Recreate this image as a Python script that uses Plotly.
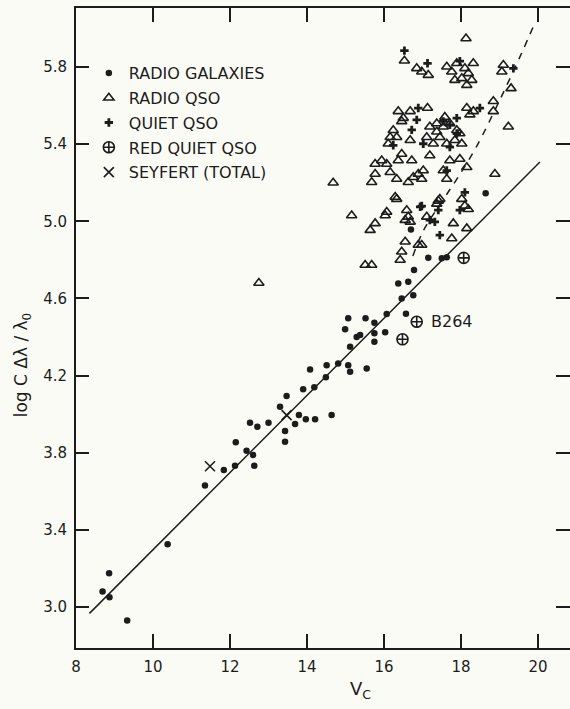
import plotly.graph_objects as go

# ---------------- data ----------------
gal_x = [11.35, 10.38, 8.86, 8.69, 8.87, 9.33,
         11.84, 12.13, 12.63, 12.60, 12.43, 12.15, 12.52, 12.71, 13.00,
         13.43, 13.43, 13.69, 13.79, 13.97, 14.21, 14.64, 13.30, 13.47, 13.90,
         14.19, 14.49, 14.08, 14.51, 14.81, 15.07, 15.12, 15.55, 15.12, 15.29,
         15.38, 14.99, 15.75, 15.75, 16.03, 15.07, 15.52, 15.75, 16.07, 16.57,
         16.46, 16.76, 16.63, 16.37, 16.78, 17.15, 17.50, 17.63, 16.70, 18.64]
gal_y = [3.630, 3.325, 3.175, 3.080, 3.050, 2.930,
         3.710, 3.733, 3.733, 3.788, 3.810, 3.854, 3.956, 3.935, 3.956,
         3.857, 3.912, 3.949, 3.995, 3.973, 3.973, 3.995, 4.038, 4.094, 4.129,
         4.139, 4.191, 4.232, 4.254, 4.263, 4.254, 4.220, 4.237, 4.349, 4.400,
         4.410, 4.440, 4.375, 4.419, 4.424, 4.497, 4.497, 4.474, 4.519, 4.520,
         4.600, 4.617, 4.686, 4.678, 4.747, 4.811, 4.808, 4.813, 4.958, 5.145]

rqso_x = [18.13, 16.53, 16.85, 16.98, 17.15,
          17.63, 17.76, 17.89, 18.10, 18.32, 18.19, 18.02, 17.84, 18.28, 18.15,
          19.10, 19.06, 19.30, 19.23,
          16.37, 16.50, 16.68, 16.46, 17.13,
          18.15, 18.32, 18.23, 18.84, 18.84,
          16.24, 16.16, 16.33, 16.11, 16.68,
          17.19, 17.37, 17.54, 17.71, 17.89, 17.11, 17.45, 17.28, 17.63, 17.84,
          17.97, 18.02, 17.37, 17.58,
          15.77, 15.94, 16.07, 16.46, 16.37, 16.72, 17.19, 17.71, 17.97, 18.15,
          18.88, 15.77, 16.16, 16.89, 17.02,
          15.68, 16.33, 16.63, 16.76, 16.98, 17.54, 17.63,
          16.33, 15.16, 16.03, 15.77, 15.64, 16.59, 16.63, 16.55, 16.68, 17.41,
          17.11, 18.02, 18.10, 18.19, 17.80, 18.15, 16.55, 16.89,
          15.51, 15.68, 16.07, 16.29, 17.37, 17.45, 16.98, 16.46, 16.42, 17.76,
          14.68, 12.75]
rqso_y = [5.948, 5.832, 5.793, 5.775, 5.758,
          5.801, 5.775, 5.819, 5.793, 5.819, 5.767, 5.741, 5.732, 5.732, 5.706,
          5.810, 5.775, 5.689, 5.490,
          5.570, 5.535, 5.570, 5.518, 5.587,
          5.587, 5.570, 5.553, 5.622, 5.570,
          5.472, 5.436, 5.436, 5.402, 5.420,
          5.490, 5.464, 5.490, 5.507, 5.472, 5.436, 5.436, 5.402, 5.402, 5.420,
          5.455, 5.402, 5.507, 5.541,
          5.297, 5.315, 5.297, 5.349, 5.315, 5.315, 5.341, 5.315, 5.323, 5.280,
          5.245, 5.245, 5.254, 5.245, 5.263,
          5.202, 5.219, 5.202, 5.228, 5.219, 5.263, 5.219,
          5.115, 5.030, 5.030, 4.989, 4.954, 5.057, 5.023, 5.006, 4.997, 5.106,
          5.023, 5.115, 5.080, 5.062, 4.989, 4.963, 4.894, 4.877,
          4.773, 4.773, 5.048, 5.126, 5.090, 5.115, 4.877, 4.842, 4.799, 4.911,
          5.200, 4.680]

qqso_x = [16.53, 17.13, 17.97, 19.36, 16.89, 16.85, 16.72, 17.89, 17.54, 17.71,
          18.49, 17.89, 17.02, 17.71, 16.24, 17.63, 18.10, 17.97, 16.94, 17.41,
          17.45, 17.19, 17.32, 16.98]
qqso_y = [5.885, 5.819, 5.830, 5.793, 5.587, 5.526, 5.474, 5.535, 5.518, 5.500,
          5.587, 5.455, 5.402, 5.385, 5.394, 5.263, 5.150, 5.058, 5.075, 5.058,
          4.928, 5.006, 4.997, 5.079]

red_x = [16.85, 16.48, 18.07]
red_y = [4.479, 4.388, 4.810]

sey_x = [11.48, 13.47]
sey_y = [3.730, 3.995]

fit_x = [8.35, 20.05]
fit_y = [2.967, 5.307]

dash_x = [16.75, 17.02, 17.63, 17.93, 18.41, 19.01, 19.57, 19.90]
dash_y = [4.820, 4.950, 5.140, 5.230, 5.390, 5.630, 5.870, 6.020]

x_ticks = [8, 10, 12, 14, 16, 18, 20]
y_ticks = [3.0, 3.4, 3.8, 4.2, 4.6, 5.0, 5.4, 5.8]
y_ticklabels = ["3.0", "3.4", "3.8", "4.2", "4.6", "5.0", "5.4", "5.8"]

INK = "#1c1c1c"
BG = "#fbfbf5"

fig = go.Figure()

fig.add_trace(go.Scatter(x=fit_x, y=fit_y, mode="lines",
                         line=dict(color=INK, width=1.5), showlegend=False,
                         hoverinfo="skip"))
fig.add_trace(go.Scatter(x=dash_x, y=dash_y, mode="lines", line_shape="spline",
                         line=dict(color=INK, width=1.5, dash="7px,7px"),
                         showlegend=False, hoverinfo="skip"))
# invisible copy bound to the right-hand axis so its ticks are drawn
fig.add_trace(go.Scatter(x=fit_x, y=fit_y, mode="lines", yaxis="y2",
                         line=dict(color="rgba(0,0,0,0)", width=0),
                         showlegend=False, hoverinfo="skip"))

fig.add_trace(go.Scatter(x=gal_x, y=gal_y, mode="markers", name="RADIO GALAXIES",
                         legendgroup="a",
                         marker=dict(symbol="circle", size=6.5, color=INK)))
fig.add_trace(go.Scatter(x=rqso_x, y=rqso_y, mode="markers", name="RADIO QSO",
                         legendgroup="b",
                         marker=dict(symbol="triangle-up-open", size=9, color=INK,
                                     line=dict(width=1.6, color=INK))))
fig.add_trace(go.Scatter(x=qqso_x, y=qqso_y, mode="markers", name="QUIET QSO",
                         legendgroup="c",
                         marker=dict(symbol="cross", size=7, color=INK,
                                     line=dict(width=0))))
fig.add_trace(go.Scatter(x=red_x, y=red_y, mode="markers", name="RED QUIET QSO",
                         legendgroup="d",
                         marker=dict(symbol="circle-cross-open", size=11, color=INK,
                                     line=dict(width=1.6, color=INK))))
fig.add_trace(go.Scatter(x=sey_x, y=sey_y, mode="markers", name="SEYFERT (TOTAL)",
                         legendgroup="e",
                         marker=dict(symbol="x-thin-open", size=10, color=INK,
                                     line=dict(width=1.6, color=INK))))

fig.add_annotation(x=16.85, y=4.479, text="B264", showarrow=False,
                   xanchor="left", xshift=12, font=dict(size=16, color=INK))

# axis titles
fig.add_annotation(xref="paper", yref="paper", x=-0.109, y=0.442,
                   xanchor="center", yanchor="middle",
                   text="log C \u0394\u03bb / \u03bb<sub>0</sub>", textangle=-90,
                   showarrow=False, font=dict(size=17, color=INK))
fig.add_annotation(xref="paper", yref="paper", x=0.575, y=-0.0656,
                   xanchor="center", yanchor="middle",
                   text="V<sub>C</sub>", showarrow=False,
                   font=dict(size=18, color=INK))

x0 = 8.0
x1 = 8.0 + (570 - 76) / 38.5
y0 = 3.0 - (648 - 607) / 192.9
y1 = 5.8 + (67 - 8) / 192.9

fig.update_layout(
    width=570, height=709,
    margin=dict(l=76, r=0, t=8, b=61),
    paper_bgcolor=BG, plot_bgcolor=BG,
    font=dict(family="DejaVu Sans", color=INK, size=15),
    legend=dict(x=0.026, y=0.925, xanchor="left", yanchor="top",
                bgcolor="rgba(0,0,0,0)", tracegroupgap=1,
                font=dict(size=16, family="DejaVu Sans", color=INK)),
    xaxis=dict(range=[x0, x1], tickvals=x_ticks, ticks="inside", ticklen=14,
               tickwidth=1.5, tickcolor=INK, showline=True, linecolor=INK,
               linewidth=2, mirror="ticks", showgrid=False, zeroline=False,
               tickfont=dict(size=15), ticklabelstandoff=4, automargin=False),
    yaxis=dict(range=[y0, y1], tickvals=y_ticks, ticktext=y_ticklabels,
               ticks="inside", ticklen=13, tickwidth=1.5, tickcolor=INK,
               showline=True, linecolor=INK, linewidth=2, mirror=False,
               showgrid=False, zeroline=False, tickfont=dict(size=15),
               ticklabelstandoff=4, automargin=False),
    yaxis2=dict(range=[y0, y1], tickvals=y_ticks, overlaying="y", side="right",
                ticks="inside", ticklen=14, tickwidth=1.5, tickcolor=INK,
                showline=False, showgrid=False, zeroline=False,
                showticklabels=False, automargin=False),
)

fig.write_html(
    "out.html",
    config={"displayModeBar": False},
    post_script="document.body.style.margin='0';document.body.style.overflow='hidden';",
)
